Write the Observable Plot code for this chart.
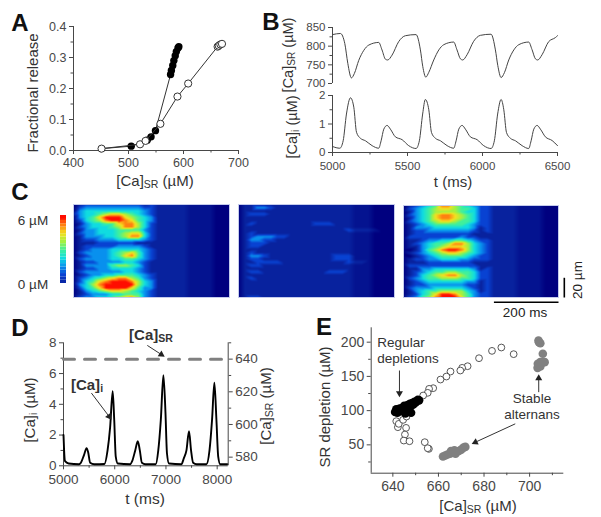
<!DOCTYPE html>
<html><head><meta charset="utf-8">
<script src="https://cdn.jsdelivr.net/npm/d3@7"></script>
<script src="https://cdn.jsdelivr.net/npm/@observablehq/plot@0.6"></script>
<style>
html,body{margin:0;padding:0;background:#fff}
#page{position:relative;width:601px;height:517px;overflow:hidden;font-family:"Liberation Sans",Arial,sans-serif;color:#333}
#page svg{position:absolute;left:0;top:0}
.lb{position:absolute;white-space:nowrap;line-height:1;transform:translate(-50%,-50%)}
.lb sub{font-size:.7em;line-height:0;vertical-align:-.25em}
</style></head><body><div id="page"></div>
<script>
// Panel A
const aOpenX=[451,521,531,558,589,608.5,662,664,667,670];
const aOpenY=[.006,.02,.031,.086,.174,.216,.335,.338,.342,.344];
const aFillX=[451,505,534,541,549,576.5,578,580.5,582.5,585,587,590,591.5];
const aFillY=[.006,.014,.033,.044,.064,.245,.258,.274,.29,.306,.319,.331,.335];
// Panel B
const bSrT=[5000,5053,5082,5102,5126,5146,5175,5209,5242,5308,5330,5353,5368,5397,5441,5486,5557,5586,5602,5622,5642,5675,5709,5742,5808,5830,5853,5868,5897,5941,5986,6057,6086,6102,6124,6146,6175,6209,6242,6308,6330,6353,6368,6397,6441,6486,6500];
const bSrV=[831,834,807,754,715,727,762,789,803,810,790,765,763,776,812,828,831,790,745,717,730,763,790,804,811,790,766,763,777,813,829,832,790,748,716,729,763,790,804,811,791,766,763,777,812,823,828];
const bCaT=[5000,5049,5071,5093,5120,5142,5160,5186,5220,5264,5308,5324,5342,5364,5386,5419,5464,5508,5557,5579,5601,5619,5642,5660,5686,5720,5764,5808,5824,5842,5864,5886,5919,5964,6008,6057,6079,6101,6124,6142,6160,6186,6220,6264,6308,6324,6342,6364,6386,6419,6464,6500];
const bCaV=[.21,.15,.41,1.35,1.92,1.59,.71,.5,.41,.24,.15,.41,.82,.95,.82,.55,.45,.24,.14,.41,1.35,1.86,1.5,.7,.5,.41,.24,.15,.41,.82,.95,.82,.55,.45,.24,.14,.41,1.35,1.86,1.5,.7,.5,.41,.24,.14,.41,.82,.95,.82,.55,.42,.24];
// Panel C: colour levels 0-9, rows top to bottom, columns every 20 ms
const heatA=[
"0122222222212111111111000","0233333333322111111111000","0344444444432111111111000","1344567765432111111111000",
"0345799976543111111111000","0245689987543111111111000","0134455788642111111111000","0234445688642111111111000",
"0133444555532111111111000","0233444567742111111111000","0133344568842111111111000","0122333444432111111111000",
"0111222222111111111111000","0122222333321111111111000","0123334444432111111111000","0233334567532111111111000",
"0123334578532111111111000","0233334455432111111111000","0122333344321111111111000","0133335665421111111111000",
"0122334444321111111111000","0233333344321111111111000","0123344555432111111111000","0234567886532111111111000",
"0245789998643111111111000","0346899999643111111111000","0245799997533111111111000","0134567765432111111111000",
"0123334455532111111111000","0233445678632111111111000"];
const heatB=[
"0111111111111111111110000","0113321111111111111110000","0111111111111111111110000","0122211111111111111110000",
"0111111111111111111110000","0111111111111111111110000","0121111111112221111110000","0111111111111111111110000",
"0111111111111111122221000","0121111111111111111110000","0123332211111111111110000","0133221111111111111110000",
"0122211111111111111110000","0122111111111111111110000","0111111111111111111110000","0121111111111111111110000",
"0133211111111112221110000","0122111111111112221110000","0112222111111111122210000","0122111111111111111110000",
"0111111111111111111110000","0122111111111122211110000","0111111111111111111110000","0121111111111111111110000",
"0111111111111111111110000","0111111111111111111110000","0111111111111111111110000","0111111111111111111110000",
"0111111111111111111110000","0122111111111111111110000"];
const heatC=[
"0123458865432211111111000","0234567765542211111111000","0134566665442211111111000","0234578876542211111111000",
"0134578876542211111111000","0234567765542211111111000","0123455555432211111111000","0133344444431211111111000",
"0122333333321211111111000","0122222222211111111111000","0222222223221111111111000","0112334455432211111111000",
"0123455688643211111111000","0113456777643211111111000","0013568998643211111111000","0123456776543211111111000",
"0012345555432211111111000","0122334443322211111111000","0111222222211111111111000","0222222222221111111111000",
"0113344444431211111111000","0123455665542211111111000","0124567886542211111111000","0234556665542211111111000",
"0123444444331211111111000","0122333333221211111111000","0233344444321211111111000","0134556666431211111111000",
"0124579986532211111111000","0235689997532211111111000"];
const columnFade=[1,1,1,1,1,1,1,1,1,1,1,1,1,1,1,1,1,1,.55,.55,.55,.55,1,1,1];
const heatLevels=[0,1,2,3,4,5,6,7,8,9];
const heatColors=["#00007f","#08229e","#0842d2","#0890ee","#10dce0","#40f09c","#a4f040","#f4e020","#ff8010","#ff0c00"];
const barLevels=[1.2,1.6,2,2.4,2.8,3.2,3.6,4,4.4,4.8,5.2,5.6,6,6.4,6.8,7.2,7.6,8,8.4,8.8,9];
// Panel D
const dCaT=[5000,5012,5030,5100,5300,5340,5400,5450,5480,5520,5600,5800,5860,5910,5960,5990,6020,6060,6300,6340,6400,6450,6490,6530,6600,6800,6850,6900,6950,6990,7020,7060,7300,7350,7400,7450,7490,7530,7600,7790,7850,7900,7945,7985,8020,8060,8200];
const dCaV=[2,1,.3,.15,.1,.2,.7,1.15,.9,.2,.1,.12,1,2.5,4.85,3,.6,.15,.1,.3,1,1.6,1,.2,.1,.1,1,3,5.9,3.5,.8,.15,.1,.5,1,2.25,1,.2,.1,.1,1,3,5.4,3,.6,.1,.1];
const dSrT=[5000,8200];
const dSrV=[640,640];
const dArrows=[{x1:6636,y1:7.83,x2:6909,y2:7.24,r:123},{x1:5545,y1:4.73,x2:5890,y2:3.21,r:143}];
// Panel E
const eOpenX=[687.6,683.5,693,677.8,672.8,670.4,669.6,665.3,663.5,660.9,657.7,655.9,655.3,653.3,641.5,642.2,642.6,645.8,644.5,645.3,644.8,647.3,654,655.8,655.3,646];
const eOpenY=[192.2,187.3,182.5,176.6,164.9,162.5,158.6,157.1,149.8,145.4,132.8,131.8,126,122.1,84.6,75.8,80.7,74.8,86.5,65.1,56.3,55.3,53.9,44.1,45.1,91.4];
const eBlackX=[641,641.5,642,642.5,643,643.5,644,644.5,645,645,645.5,646,646.5,647,647,647.5,648,648,648.5,649,649.5,650,650.5,651,651.5];
const eBlackY=[98,102,97,101,103,99,102,105,100,107,96,103,108,100,105,110,97,107,111,109,113,112,114,116,115];
const eGreyX=[662,663,664,665,665.5,666,667,667.5,668,669,670,671,671.8,703.9,704.1,704.7,705.8,706.6,704.7,703.6,703.5,704.7,706];
const eGreyY=[33,34.5,36,37,41,38,42,37,40,41,43,46,47,202.4,200,198.5,183,170.8,170.8,168.4,162.5,164.4,170.8];
const eArrows=[{x1:642.9,y1:158.6,x2:642.9,y2:125.5,r:180},{x1:704,y1:127,x2:704,y2:147.4,r:0},{x1:693.7,y1:80.7,x2:676.2,y2:53.9,r:-115}];

const page=document.getElementById("page");
const INK="#484848";
const plain=d=>String(d);
const zip=(xs,ys)=>xs.map((x,i)=>({x,y:ys[i]}));
// every plot fills the page; its margins place the frame
function add(frame,opts){
  const [L,T,R,B]=frame;
  page.appendChild(Plot.plot({width:601,height:517,marginLeft:L,marginTop:T,marginRight:601-R,marginBottom:517-B,
    style:{background:"transparent",fontFamily:'"Liberation Sans",Arial,sans-serif'},...opts}));
}
function label(html,x,y,o={}){
  const d=document.createElement("div");d.className="lb";d.innerHTML=html;
  d.style.left=x+"px";d.style.top=y+"px";d.style.fontSize=(o.size||15)+"px";
  if(o.bold)d.style.fontWeight="bold";
  d.style.color=o.color||"#333";
  if(o.rot)d.style.transform=`translate(-50%,-50%) rotate(${o.rot}deg)`;
  page.appendChild(d);
}
const ax=(fn,ticks,size,extra={})=>[fn({ticks,tickSize:4,tickPadding:3,fontSize:size,color:INK,label:null,tickFormat:plain,...extra})];
const minor=(fn,ticks,extra={})=>[fn({ticks,tickSize:2.5,text:null,label:null,color:INK,...extra})];
const arrowMarks=(arr)=>[
  Plot.link(arr,{x1:"x1",y1:"y1",x2:"x2",y2:"y2",stroke:"#333",strokeWidth:1}),
  Plot.dot(arr,{x:"x2",y:"y2",symbol:"triangle",r:2.6,fill:"#222",rotate:"r"})
];

// ---- A
add([73,26,238,150],{x:{domain:[400,700]},y:{domain:[0,.4]},marks:[
  Plot.ruleX([400],{stroke:INK}),Plot.ruleY([0],{stroke:INK}),
  ...ax(Plot.axisX,[400,500,600,700],12.5,{tickPadding:4}),...minor(Plot.axisX,[450,550,650]),
  ...ax(Plot.axisY,[0,.1,.2,.3,.4],12.5,{tickFormat:".1f"}),...minor(Plot.axisY,[.05,.15,.25,.35]),
  Plot.line(zip(aFillX,aFillY),{x:"x",y:"y",stroke:"#333",strokeWidth:1}),
  Plot.dot(zip(aFillX,aFillY).slice(1),{x:"x",y:"y",r:3.7,fill:"#000"}),
  Plot.line(zip(aOpenX,aOpenY),{x:"x",y:"y",stroke:"#333",strokeWidth:1}),
  Plot.dot(zip(aOpenX,aOpenY),{x:"x",y:"y",r:3.6,fill:"#fff",stroke:"#333",strokeWidth:1})
]});
label("Fractional release",32,93,{rot:-90,size:15});
label('[Ca]<sub>SR</sub> (µM)',155,180,{size:15});
label("A",20,23,{bold:true,size:24,color:"#111"});

// ---- B
add([332,27,557,83],{x:{domain:[5000,6500],axis:null},y:{domain:[700,850]},marks:[
  Plot.ruleX([5000],{stroke:INK}),
  ...ax(Plot.axisY,[700,750,800,850],11.5),...minor(Plot.axisY,[725,775,825]),
  Plot.line(zip(bSrT,bSrV),{x:"x",y:"y",stroke:"#444",strokeWidth:1,curve:"monotone-x"})
]});
add([332,95,557,152],{x:{domain:[5000,6500]},y:{domain:[0,2]},marks:[
  Plot.ruleX([5000],{stroke:INK}),Plot.ruleY([0],{stroke:INK}),
  ...ax(Plot.axisX,[5000,5500,6000,6500],11.5,{tickPadding:5}),...minor(Plot.axisX,[5250,5750,6250]),
  ...ax(Plot.axisY,[0,1,2],11.5),...minor(Plot.axisY,[.5,1.5]),
  Plot.line(zip(bCaT,bCaV),{x:"x",y:"y",stroke:"#444",strokeWidth:1,curve:"monotone-x"})
]});
label('[Ca]<sub>SR</sub> (µM)',288,55,{rot:-90,size:14.5});
label('[Ca]<sub>i</sub> (µM)',292,127,{rot:-90,size:14.5});
label("t (ms)",453,181,{size:15});
label("B",271,22,{bold:true,size:24,color:"#111"});

// ---- C
function heat(rows,frame,extra=[]){
  const cells=rows.flatMap((row,r)=>Array.from(row,(ch,c)=>({t:c*20,pos:r*98/(rows.length-1),v:+ch*columnFade[c]})));
  add(frame,{x:{domain:[0,480],axis:null},y:{domain:[98,0],axis:null},
    color:{type:"linear",domain:heatLevels,range:heatColors},marks:[
    Plot.raster(cells,{x:"t",y:"pos",fill:"v",x1:0,x2:480,y1:0,y2:98,interpolate:"barycentric",pixelSize:1}),
    Plot.frame({stroke:"#c4cbec",strokeWidth:1}),...extra]});
}
heat(heatA,[73,204,229,297]);
heat(heatB,[238,204,394,297]);
heat(heatC,[403,205,558,297],[
  Plot.link([{x1:280,x2:480,y:103}],{x1:"x1",x2:"x2",y1:"y",y2:"y",stroke:"#000",strokeWidth:1.6}),
  Plot.link([{x:498,y1:77,y2:98}],{x1:"x",x2:"x",y1:"y1",y2:"y2",stroke:"#000",strokeWidth:1.6})
]);
add([60,215,66,283],{x:{domain:[0,1],axis:null},y:{domain:[heatLevels[0]+1,9.2],axis:null},
  color:{type:"linear",domain:heatLevels,range:heatColors},marks:[
  Plot.rect(barLevels,{x1:0,x2:1,y1:d=>d-.2,y2:d=>d+.2,fill:d=>d})
]});
label("6 µM",33,221,{size:13.5});
label("0 µM",33,285,{size:13.5});
label("20 µm",578,280,{rot:-90,size:13.5,color:"#222"});
label("200 ms",525,313,{size:13.5,color:"#222"});
label("C",20,192,{bold:true,size:24,color:"#111"});

// ---- D
add([63,342.3,227.7,465.3],{x:{domain:[5000,8215]},y:{domain:[0,8]},marks:[
  Plot.ruleX([5000],{stroke:INK}),Plot.ruleY([0],{stroke:INK}),
  ...ax(Plot.axisX,[5000,6000,7000,8000],13.5,{tickPadding:5}),...minor(Plot.axisX,[5500,6500,7500]),
  ...ax(Plot.axisY,[0,2,4,6,8],13.5),...minor(Plot.axisY,[1,3,5,7]),
  Plot.line(zip(dCaT,dCaV),{x:"x",y:"y",stroke:"#000",strokeWidth:1.9,curve:"monotone-x"}),
  ...arrowMarks(dArrows)
]});
add([63,342.3,227.7,465.3],{x:{domain:[5000,8215],axis:null},y:{domain:[574.7,650]},marks:[
  Plot.ruleX([8215],{stroke:INK}),
  ...ax(Plot.axisY,[580,600,620,640],13.5,{anchor:"right"}),...minor(Plot.axisY,[590,610,630,650],{anchor:"right"}),
  Plot.line(zip(dSrT,dSrV),{x:"x",y:"y",stroke:"#808080",strokeWidth:3,strokeDasharray:"11,10"})
]});
label('[Ca]<sub>i</sub> (µM)',29,410,{rot:-90,size:15});
label('[Ca]<sub>SR</sub> (µM)',265,406,{rot:-90,size:15});
label("t (ms)",145,499,{size:15.5});
label('[Ca]<sub>SR</sub>',151,334,{bold:true,size:15});
label('[Ca]<sub>i</sub>',87,384,{bold:true,size:15});
label("D",20,328,{bold:true,size:24,color:"#111"});

// ---- E
add([370.7,327.3,563.3,472.7],{x:{domain:[630.5,715]},y:{domain:[8.6,221]},marks:[
  Plot.ruleX([630.5],{stroke:INK}),Plot.ruleY([8.6],{stroke:INK}),
  ...ax(Plot.axisX,[640,660,680,700],14,{tickPadding:4}),...minor(Plot.axisX,[650,670,690,710]),
  ...ax(Plot.axisY,[50,100,150,200],14),...minor(Plot.axisY,[25,75,125,175]),
  Plot.dot(zip(eOpenX,eOpenY),{x:"x",y:"y",r:3.4,fill:"#fff",stroke:"#444",strokeWidth:.9}),
  Plot.dot(zip(eBlackX,eBlackY),{x:"x",y:"y",r:4.3,fill:"#000"}),
  Plot.dot(zip(eGreyX,eGreyY),{x:"x",y:"y",r:4.3,fill:"#808080"}),
  ...arrowMarks(eArrows)
]});
label("SR depletion (µM)",324,407,{rot:-90,size:15});
label('[Ca]<sub>SR</sub> (µM)',478,505,{size:15});
label("Regular",401,342.5,{size:13.5});
label("depletions",408,359,{size:13.5});
label("Stable",532,399,{size:13.5});
label("alternans",532,415,{size:13.5});
label("E",324,327,{bold:true,size:24,color:"#111"});
</script></body></html>
